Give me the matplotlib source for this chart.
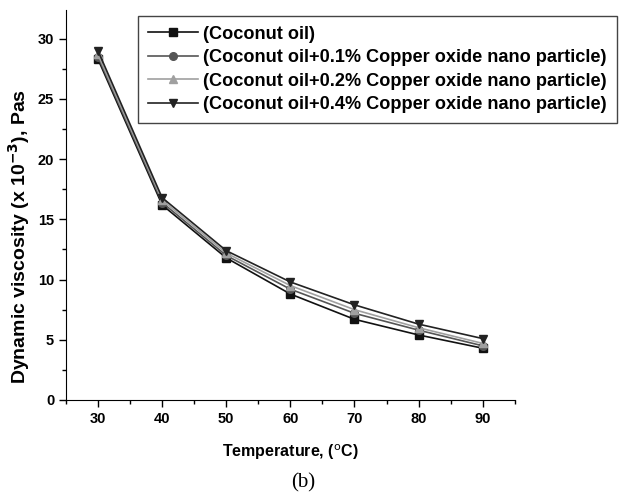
import matplotlib.pyplot as plt
from matplotlib.ticker import MultipleLocator

plt.rcParams['font.family'] = ['Liberation Sans', 'DejaVu Sans']

# Viscosity vs temperature for coconut oil with CuO nano particles
temperature = [30, 40, 50, 60, 70, 80, 90]
coconut = [28.3, 16.2, 11.8, 8.8, 6.7, 5.4, 4.3]
cuo_01 = [28.5, 16.4, 12.0, 9.2, 7.2, 5.8, 4.5]
cuo_02 = [28.7, 16.6, 12.2, 9.5, 7.5, 6.0, 4.7]
cuo_04 = [29.0, 16.8, 12.4, 9.8, 7.9, 6.3, 5.1]

labels = [
    "(Coconut oil)",
    "(Coconut oil+0.1% Copper oxide nano particle)",
    "(Coconut oil+0.2% Copper oxide nano particle)",
    "(Coconut oil+0.4% Copper oxide nano particle)",
]

series = [coconut, cuo_01, cuo_02, cuo_04]
colors = ["#111111", "#555555", "#a0a0a0", "#222222"]
markers = ["s", "o", "^", "v"]

fig = plt.figure(figsize=(6.34, 4.92), dpi=100)
ax = fig.add_axes([0.104, 0.187, 0.708, 0.793])

for vals, col, mk, lab in zip(series, colors, markers, labels):
    ax.plot(temperature, vals, color=col, marker=mk, markersize=5.5,
            linewidth=1.2, label=lab)

ax.set_xlim(25, 95)
ax.set_ylim(0, 32.4)
ax.xaxis.set_major_locator(MultipleLocator(10))
ax.xaxis.set_minor_locator(MultipleLocator(5))
ax.yaxis.set_major_locator(MultipleLocator(5))
ax.yaxis.set_minor_locator(MultipleLocator(2.5))
ax.tick_params(which='both', direction='out', width=1)
ax.tick_params(which='major', length=5, labelsize=10.5)
ax.tick_params(which='minor', length=3)
for t in ax.get_xticklabels() + ax.get_yticklabels():
    t.set_fontweight('bold')

ax.spines['top'].set_visible(False)
ax.spines['right'].set_visible(False)

ax.set_xlabel("Temperature, ($^{\\mathrm{o}}$C)", fontsize=11.5, fontweight='bold', labelpad=12)
ax.set_ylabel("Dynamic viscosity (x 10$^{\\mathbf{-3}}$), Pas", fontsize=14,
              fontweight='bold')
# label sits a little below the axis midpoint
ax.yaxis.set_label_coords(-0.075, 0.42)

leg = fig.legend(loc='upper left', bbox_to_anchor=(0.218, 0.968), borderaxespad=0,
                 prop={'weight': 'bold', 'size': 13.1}, fancybox=False,
                 edgecolor='#444444', framealpha=1, handlelength=2.75,
                 borderpad=0.55, labelspacing=0.36, handletextpad=0.28)
leg.get_frame().set_linewidth(1.0)

fig.text(0.478, 0.018, "(b)", family='Liberation Serif', fontsize=15,
         ha='center', va='center')

fig.savefig("out.png", dpi=100)
